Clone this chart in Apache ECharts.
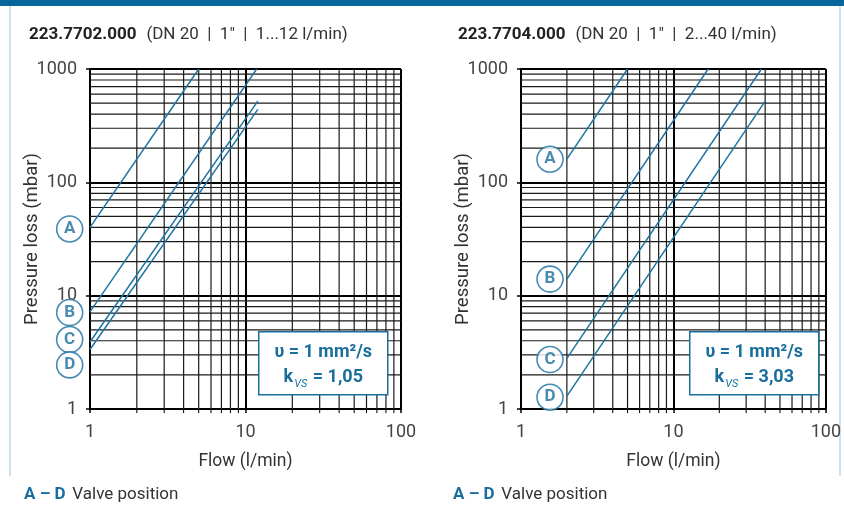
<!DOCTYPE html>
<html><head><meta charset="utf-8">
<script src="https://cdn.jsdelivr.net/npm/echarts@6/dist/echarts.min.js"></script>
<style>html,body{margin:0;padding:0;background:#fff}#c{width:844px;height:512px}</style>
</head><body><div id="c"></div>
<script>
// ---- data ----
const curveNames = ['A', 'B', 'C', 'D'];
const leftFlow = [[1, 5], [1, 11.8], [1, 12], [1, 12]];
const leftLoss = [[40, 1000], [7.2, 1000], [3.9, 520], [3.35, 440]];
const leftMarkerFlow = [0.74, 0.74, 0.74, 0.74];
const leftMarkerLoss = [38.8, 7.1, 4.1, 2.45];
const rightFlow = [[2, 5], [2, 16.9], [2, 37.8], [2, 40]];
const rightLoss = [[160, 1000], [14, 1000], [2.8, 1000], [1.3, 520]];
const rightMarkerFlow = [1.55, 1.55, 1.55, 1.55];
const rightMarkerLoss = [160, 14, 2.73, 1.27];
const xMinor = [2, 3, 4, 5, 6, 7, 8, 9, 20, 30, 40, 50, 60, 70, 80, 90];
const yMinor = [2, 3, 4, 5, 6, 7, 8, 9, 20, 30, 40, 50, 60, 70, 80, 90, 200, 300, 400, 500, 600, 700, 800, 900];
const xRange = [1, 100];
const yRange = [1, 1000];
const titleCodes = ['223.7702.000', '223.7704.000'];
const titleSpecs = ['(DN 20  |  1"  |  1...12 l/min)', '(DN 20  |  1"  |  2...40 l/min)'];
const kvsValues = ['1,05', '3,03'];

const BLUE = '#1a6e9e';
const LINE = '#1f74a3';
const FONT = 'Roboto';

function buildSeries(g, flow, loss, mFlow, mLoss) {
  const s = [];
  xMinor.forEach(v => {
    s.push({type: 'line', xAxisIndex: g, yAxisIndex: g, silent: true, symbol: 'none', animation: false, z: 1,
      lineStyle: {color: '#1a1a1a', width: 1.2}, data: [[v, yRange[0]], [v, yRange[1]]]});
    s.push({type: 'line', xAxisIndex: g, yAxisIndex: g, silent: true, symbol: 'none', animation: false, z: 1, clip: false,
      lineStyle: {color: '#000', width: 1}, data: [[v, yRange[0]], [v, 0.92]]});
  });
  yMinor.forEach(v => {
    s.push({type: 'line', xAxisIndex: g, yAxisIndex: g, silent: true, symbol: 'none', animation: false, z: 1,
      lineStyle: {color: '#1a1a1a', width: 1.2}, data: [[xRange[0], v], [xRange[1], v]]});
    s.push({type: 'line', xAxisIndex: g, yAxisIndex: g, silent: true, symbol: 'none', animation: false, z: 1, clip: false,
      lineStyle: {color: '#000', width: 1}, data: [[xRange[0], v], [0.965, v]]});
  });
  curveNames.forEach((n, i) => {
    s.push({type: 'line', name: n, xAxisIndex: g, yAxisIndex: g, symbol: 'none', animation: false, z: 5,
      lineStyle: {color: LINE, width: 1.5},
      data: [[flow[i][0], loss[i][0]], [flow[i][1], loss[i][1]]]});
  });
  s.push({type: 'scatter', xAxisIndex: g, yAxisIndex: g, clip: false, animation: false, z: 6,
    symbol: 'circle', symbolSize: 26,
    itemStyle: {color: '#fff', borderColor: BLUE, borderWidth: 1.6},
    label: {show: true, position: 'inside', formatter: p => p.name, color: BLUE, fontFamily: FONT, fontWeight: 'bold', fontSize: 17},
    data: curveNames.map((n, i) => ({name: n, value: [mFlow[i], mLoss[i]]}))});
  return s;
}

function xAxis(g) {
  return {type: 'log', logBase: 10, gridIndex: g, min: xRange[0], max: xRange[1],
    axisLine: {lineStyle: {color: '#000', width: 2}},
    axisTick: {show: true, length: 4, lineStyle: {color: '#000', width: 1.5}},
    splitLine: {show: true, lineStyle: {color: '#000', width: 2}},
    axisLabel: {fontSize: 18, color: '#444', margin: 14, fontFamily: FONT, formatter: v => String(v)},
    name: 'Flow (l/min)', nameLocation: 'middle', nameGap: 44, nameMoveOverlap: false,
    nameTextStyle: {fontSize: 17.5, color: '#333', fontFamily: FONT}};
}
function yAxis(g) {
  return {type: 'log', logBase: 10, gridIndex: g, min: yRange[0], max: yRange[1],
    axisLine: {lineStyle: {color: '#000', width: 2}},
    axisTick: {show: true, length: 4, lineStyle: {color: '#000', width: 1.5}},
    splitLine: {show: true, lineStyle: {color: '#000', width: 2}},
    axisLabel: {fontSize: 18, color: '#444', margin: 13, fontFamily: FONT, formatter: v => String(v)},
    name: 'Pressure loss (mbar)', nameLocation: 'middle', nameGap: 48, nameMoveOverlap: false,
    nameTextStyle: {fontSize: 18.5, color: '#333', fontFamily: FONT}};
}

function kvsBox(x, y, val) {
  return {type: 'group', left: x, top: y, children: [
    {type: 'rect', shape: {x: 0, y: 0, width: 129, height: 63}, style: {fill: '#fff', stroke: BLUE, lineWidth: 1.5}, z: 10},
    {type: 'text', x: 64.5, y: 21, z: 11, style: {text: 'υ = 1 mm²/s', align: 'center', verticalAlign: 'middle',
      fill: BLUE, font: 'bold 18px ' + FONT}},
    {type: 'text', x: 64.5, y: 46, z: 11, style: {
      text: '{k|k}{s|VS}{k| = ' + val + '}', align: 'center', verticalAlign: 'middle',
      rich: {k: {fill: BLUE, fontFamily: FONT, fontWeight: 'bold', fontSize: 18, verticalAlign: 'middle'},
             s: {fill: BLUE, fontFamily: FONT, fontStyle: 'italic', fontSize: 11, padding: [12, 1, 0, 1], verticalAlign: 'middle'}}}}
  ]};
}

const chart = echarts.init(document.getElementById('c'), null, {renderer: 'canvas'});
chart.setOption({
  backgroundColor: '#fff',
  animation: false,
  title: [0, 1].map(i => ({
    left: i === 0 ? 24 : 453, top: 21,
    text: '{b|' + titleCodes[i] + '}  {r|' + titleSpecs[i] + '}',
    textStyle: {fontWeight: 'normal', rich: {
      b: {fontFamily: FONT, fontWeight: 'bold', fontSize: 17, color: '#222'},
      r: {fontFamily: FONT, fontWeight: 'normal', fontSize: 17, color: '#333'}}}
  })),
  grid: [
    {left: 90, top: 69, width: 311, height: 340},
    {left: 521, top: 69, width: 311, height: 340}
  ],
  xAxis: [xAxis(0), xAxis(1)],
  yAxis: [yAxis(0), yAxis(1)],
  series: [].concat(
    buildSeries(0, leftFlow, leftLoss, leftMarkerFlow, leftMarkerLoss),
    buildSeries(1, rightFlow, rightLoss, rightMarkerFlow, rightMarkerLoss)
  ),
  graphic: [
    {type: 'rect', left: 0, top: 0, shape: {width: 844, height: 6}, style: {fill: '#07679b'}},
    {type: 'line', shape: {x1: 10, y1: 6, x2: 10, y2: 476}, style: {stroke: '#9cc5dd', lineWidth: 1}},
    {type: 'line', shape: {x1: 840, y1: 6, x2: 840, y2: 476}, style: {stroke: '#9cc5dd', lineWidth: 1}},
    kvsBox(258, 331, kvsValues[0]),
    kvsBox(689, 331, kvsValues[1]),
    {type: 'text', left: 24, top: 486, style: {text: '{b|A – D}  {r|Valve position}',
      rich: {b: {fill: BLUE, fontFamily: FONT, fontWeight: 'bold', fontSize: 17},
             r: {fill: '#333', fontFamily: FONT, fontSize: 17}}}},
    {type: 'text', left: 453, top: 486, style: {text: '{b|A – D}  {r|Valve position}',
      rich: {b: {fill: BLUE, fontFamily: FONT, fontWeight: 'bold', fontSize: 17},
             r: {fill: '#333', fontFamily: FONT, fontSize: 17}}}}
  ]
});
</script>
</body></html>
